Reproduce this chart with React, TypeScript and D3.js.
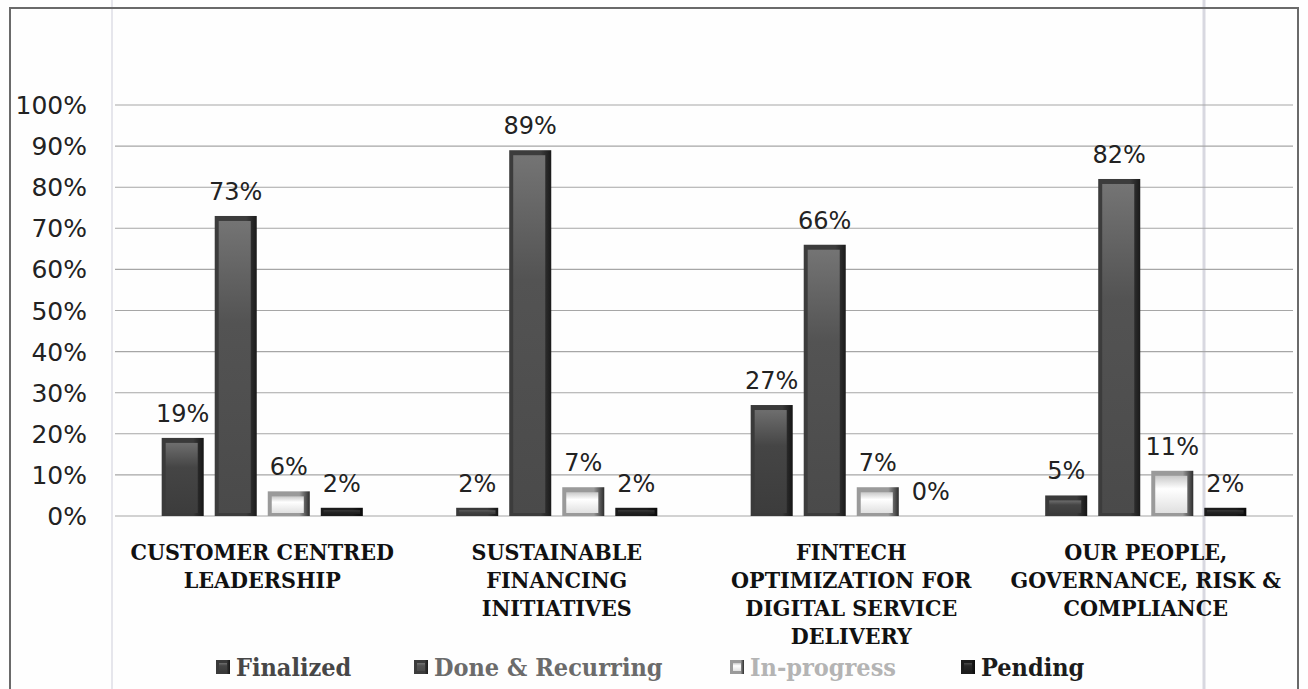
import React from "react";
import * as d3 from "d3";

const W = 1308;
const H = 689;

// chart data
const categoryLines = [
  ["CUSTOMER CENTRED", "LEADERSHIP"],
  ["SUSTAINABLE", "FINANCING", "INITIATIVES"],
  ["FINTECH", "OPTIMIZATION FOR", "DIGITAL SERVICE", "DELIVERY"],
  ["OUR PEOPLE,", "GOVERNANCE, RISK &", "COMPLIANCE"],
];
const categories = categoryLines.map((l) => l.join(" "));
const seriesNames = ["Finalized", "Done & Recurring", "In-progress", "Pending"];
const finalized = [19, 2, 27, 5];
const doneRecurring = [73, 89, 66, 82];
const inProgress = [6, 7, 7, 11];
const pending = [2, 2, 0, 2];
const seriesValues = [finalized, doneRecurring, inProgress, pending];
const yTicks = [0, 10, 20, 30, 40, 50, 60, 70, 80, 90, 100];

// bevel colours per series: left edge, right edge, face top, face mid, face bottom
const looks = [
  { l: "#3a3a3a", r: "#151515", ft: "#6e6e6e", fm: "#454545", fb: "#3c3c3c", legend: "#474747" },
  { l: "#3c3c3c", r: "#1a1a1a", ft: "#747474", fm: "#535353", fb: "#4a4a4a", legend: "#6b6b6b" },
  { l: "#9a9a9a", r: "#2c2c2c", ft: "#c8c8c8", fm: "#ffffff", fb: "#e0e0e0", legend: "#b4b4b4" },
  { l: "#1c1c1c", r: "#0a0a0a", ft: "#4a4a4a", fm: "#262626", fb: "#1e1e1e", legend: "#1c1c1c" },
];

const plot = { left: 115, right: 1293, top: 105, bottom: 516 };

const legendX = [216, 414, 730, 961];

const serifCond = "'DejaVu Serif Condensed', 'DejaVu Serif', serif";

const Bar = ({ x, y, w, h, si }) => {
  const il = Math.min(4, h / 3);
  const ir = Math.min(6, h / 3);
  const it = Math.min(5, h / 3);
  const ib = Math.min(3, h / 4);
  return (
    <g>
      <rect x={x} y={y} width={w} height={h} fill={`url(#edge${si})`} />
      {h > 3 && (
        <rect
          x={x + il}
          y={y + it}
          width={w - il - ir}
          height={Math.max(h - it - ib, 0.5)}
          fill={`url(#face${si})`}
        />
      )}
    </g>
  );
};

const App = () => {
  const x0 = d3
    .scaleBand()
    .domain(categories)
    .range([plot.left, plot.right])
    .paddingInner(0.317)
    .paddingOuter(0.1585);

  const x1 = d3
    .scaleBand()
    .domain(seriesNames)
    .range([0, x0.bandwidth()])
    .paddingInner(0.2075);

  const y = d3.scaleLinear().domain([0, 100]).range([plot.bottom, plot.top]);

  return (
    <svg
      width={W}
      height={H}
      style={{ position: "fixed", left: 0, top: 0, background: "#fff" }}
    >
      <defs>
        {looks.map((lk, i) => (
          <React.Fragment key={i}>
            <linearGradient id={`edge${i}`} x1="0" x2="1" y1="0" y2="0">
              <stop offset="0%" stopColor={lk.l} />
              <stop offset="75%" stopColor={lk.l} />
              <stop offset="100%" stopColor={lk.r} />
            </linearGradient>
            <linearGradient id={`face${i}`} x1="0" x2="0" y1="0" y2="1">
              <stop offset="0%" stopColor={lk.ft} />
              <stop offset="35%" stopColor={lk.fm} />
              <stop offset="100%" stopColor={lk.fb} />
            </linearGradient>
          </React.Fragment>
        ))}
      </defs>
      <rect width={W} height={H} fill="#fefefe" />
      {/* scan fold lines */}
      <line x1={112} x2={112} y1={0} y2={H} stroke="#e6e6ec" strokeWidth={2} />
      <line x1={1204} x2={1204} y1={0} y2={H} stroke="#d8d8e0" strokeWidth={3} />
      {/* border */}
      <rect x={10} y={8} width={1288} height={H + 20} fill="none" stroke="#6a6a6a" strokeWidth={2} />

      {yTicks.map((t) => (
        <g key={t}>
          <line
            x1={plot.left}
            x2={plot.right}
            y1={y(t)}
            y2={y(t)}
            stroke="#a6a6a6"
            strokeWidth={1.1}
          />
          <text
            x={87}
            y={y(t) + 9}
            textAnchor="end"
            fontFamily="DejaVu Sans"
            fontSize={25}
            fill="#222"
          >
            {t}%
          </text>
        </g>
      ))}

      {categories.map((c, ci) => (
        <g key={c}>
          {seriesNames.map((s, si) => {
            const v = seriesValues[si][ci];
            const bx = x0(c) + x1(s);
            const by = y(v);
            const bh = Math.max(y(0) - y(v), 0);
            return (
              <g key={s}>
                <Bar x={bx} y={by} w={x1.bandwidth()} h={bh} si={si} />
                <text
                  x={bx + x1.bandwidth() / 2}
                  y={by - 16}
                  textAnchor="middle"
                  fontFamily="DejaVu Sans"
                  fontSize={24}
                  fill="#222"
                >
                  {v}%
                </text>
              </g>
            );
          })}
          {categoryLines[ci].map((line, li) => (
            <text
              key={li}
              x={x0(c) + x0.bandwidth() / 2}
              y={560 + li * 28}
              textAnchor="middle"
              fontFamily={serifCond}
              fontWeight="bold"
              fontSize={23}
              fill="#111"
            >
              {line}
            </text>
          ))}
        </g>
      ))}

      {seriesNames.map((s, si) => (
        <g key={s}>
          <rect x={legendX[si]} y={660} width={14} height={14} fill={`url(#edge${si})`} />
          <rect x={legendX[si] + 3} y={663} width={8} height={8} fill={`url(#face${si})`} />
          <text
            x={legendX[si] + 20}
            y={676}
            fontFamily={serifCond}
            fontWeight="bold"
            fontSize={25}
            fill={looks[si].legend}
          >
            {s}
          </text>
        </g>
      ))}
    </svg>
  );
};

export default App;
